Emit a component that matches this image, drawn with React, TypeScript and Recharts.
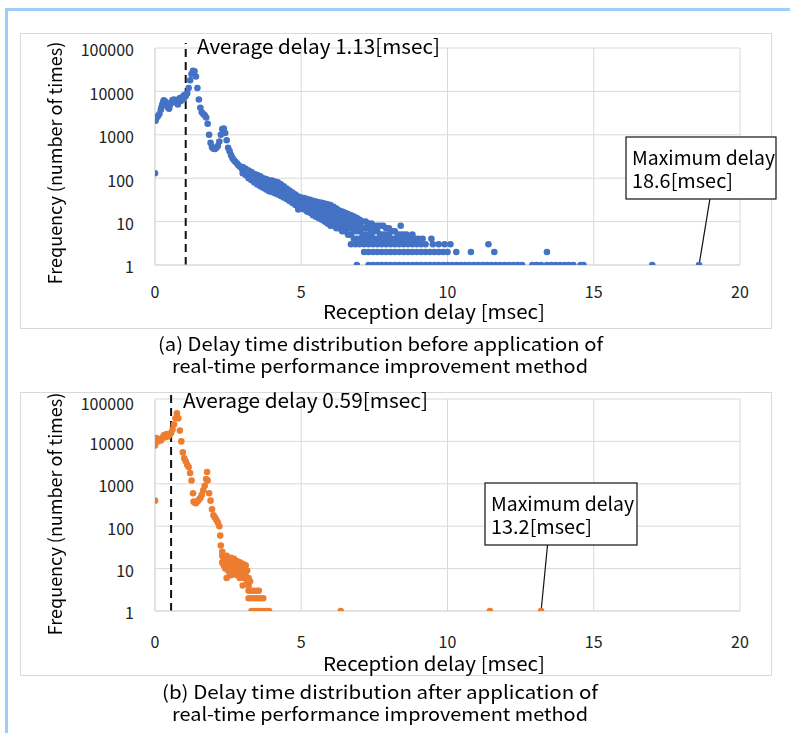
import React from "react"
import { ScatterChart, Scatter, XAxis, YAxis, CartesianGrid, ReferenceLine } from "recharts"

const FONT = "'Noto Sans CJK JP', 'Noto Sans', sans-serif"

const xTicks = [0, 5, 10, 15, 20]
const yTicks = [1, 10, 100, 1000, 10000, 100000]

// (a) before: main curve [delay msec, frequency]
const curveA: [number, number][] = [
  [0, 130],
  [0.0, 2300], [0.02, 2100], [0.05, 2500], [0.08, 2600], [0.1, 2700], [0.15, 3000], [0.2, 3800],
  [0.22, 4300], [0.25, 5000], [0.28, 5600], [0.3, 6200], [0.32, 5400], [0.35, 5800], [0.4, 4800],
  [0.45, 4200], [0.48, 4000], [0.5, 4600], [0.55, 5500], [0.6, 6300], [0.62, 5600], [0.65, 6500],
  [0.7, 5800], [0.75, 5600], [0.78, 5000], [0.8, 6500], [0.85, 7000], [0.88, 6000], [0.9, 6800],
  [0.95, 7500], [0.98, 6600], [1.0, 8200], [1.05, 7800], [1.1, 9000], [1.15, 12000], [1.2, 18000],
  [1.25, 25000], [1.3, 30000], [1.35, 29000], [1.4, 22000], [1.45, 12000], [1.5, 6500], [1.55, 4200],
  [1.6, 3300], [1.65, 3000], [1.7, 2800], [1.75, 2500], [1.8, 1800], [1.85, 1000], [1.9, 650],
  [1.95, 520], [2.0, 480], [2.05, 470], [2.1, 500], [2.15, 560], [2.2, 700], [2.25, 1000],
  [2.3, 1350], [2.35, 1400], [2.4, 1100], [2.45, 750], [2.5, 500], [2.55, 420], [2.6, 340],
  [2.65, 290], [2.7, 260], [2.75, 240], [2.8, 220], [2.85, 200], [2.9, 185], [2.95, 175],
]

// (a) wide tail: delay -> frequencies seen there
const tailA: [number, number[]][] = [
  [3.0, [180, 150, 130]], [3.1, [165, 140, 118]], [3.2, [150, 125, 100]], [3.3, [138, 112, 90]],
  [3.4, [125, 100, 80]], [3.5, [118, 92, 72]], [3.6, [110, 85, 65]], [3.7, [100, 78, 60]],
  [3.8, [95, 72, 55]], [3.9, [90, 68, 50]], [4.0, [88, 64, 48]], [4.1, [84, 60, 45]],
  [4.2, [80, 56, 42]], [4.3, [72, 52, 39]], [4.4, [65, 48, 36]], [4.5, [58, 50, 44, 38, 33]],
  [4.6, [52, 45, 40, 35, 30]], [4.7, [47, 41, 36, 31, 27]], [4.8, [42, 37, 33, 28, 24]],
  [4.9, [38, 34, 30, 26, 22, 19]], [5.0, [36, 32, 28, 24, 20]], [5.1, [35, 30, 26, 22, 19]],
  [5.2, [33, 28, 24, 20, 17]], [5.3, [32, 27, 23, 19, 16]], [5.4, [30, 25, 21, 17, 14]],
  [5.5, [29, 24, 20, 16, 13]], [5.6, [28, 23, 19, 15, 12]], [5.7, [27, 22, 18, 14, 11]],
  [5.8, [26, 21, 17, 13, 10]], [5.9, [25, 20, 16, 12, 9]], [6.0, [24, 19, 15, 11, 8]],
  [6.1, [22, 18, 14, 10, 8]], [6.2, [20, 16, 13, 10, 7]], [6.3, [18, 15, 12, 9, 7]],
  [6.4, [17, 14, 11, 8, 6]], [6.5, [16, 13, 10, 8, 6]], [6.6, [15, 12, 9, 7, 5]],
  [6.7, [14, 11, 9, 7, 5]], [6.8, [13, 10, 8, 6, 4]], [6.9, [12, 9, 7, 6, 4]],
  [7.0, [11, 8, 6, 4]], [7.1, [10, 7, 5, 4]], [7.2, [10, 7, 5, 4]], [7.3, [9, 7, 5, 4]],
  [7.4, [9, 6, 5, 4]], [7.5, [8, 6, 4]], [7.6, [8, 6, 4]], [7.7, [8, 5, 4]], [7.8, [8, 5, 4]],
  [7.9, [7, 5, 4]], [8.0, [7, 5, 4]], [8.1, [6, 4]], [8.2, [6, 4]], [8.3, [5, 4]], [8.4, [8, 5, 4]],
  [8.5, [5, 4]], [8.6, [5, 4]], [8.7, [4]], [8.8, [5, 4]], [8.9, [4]], [9.0, [4]], [9.15, [4]], [9.45, [4]],
]

// (a) delays seen 3, 2 and 1 times
const threeA = [6.7, 6.85, 7.0, 7.15, 7.3, 7.45, 7.6, 7.75, 7.9, 8.05, 8.2, 8.35, 8.5, 8.65, 8.8, 8.95,
  9.1, 9.25, 9.5, 9.7, 9.9, 10.1, 11.4]
const twoA = [7.15, 7.3, 7.45, 7.6, 7.75, 7.9, 8.05, 8.2, 8.35, 8.5, 8.65, 8.8, 8.95, 9.1, 9.25, 9.4,
  9.55, 9.7, 9.85, 10.0, 10.3, 10.8, 11.6, 13.4]
const oneA = [6.9, 7.3, 7.45, 7.6, 7.75, 7.9, 8.05, 8.2, 8.35, 8.5, 8.65, 8.8, 8.95, 9.1, 9.25, 9.4,
  9.55, 9.7, 9.85, 10.0, 10.15, 10.3, 10.45, 10.6, 10.75, 10.9, 11.05, 11.2, 11.35, 11.5, 11.65,
  11.8, 11.95, 12.1, 12.25, 12.4, 12.55, 12.9, 13.05, 13.2, 13.4, 13.55, 13.7, 13.85, 14.0, 14.15,
  14.3, 14.55, 14.65, 17.0, 18.6]

// (b) after
const curveB: [number, number][] = [
  [0, 400],
  [0.0, 8000], [0.05, 12000], [0.1, 10000], [0.15, 11000], [0.2, 10500], [0.25, 12000], [0.3, 14000],
  [0.35, 12500], [0.4, 15000], [0.45, 13000], [0.5, 14500], [0.55, 16000], [0.6, 19000], [0.65, 25000],
  [0.7, 35000], [0.75, 46000], [0.8, 35000], [0.85, 18000], [0.9, 10000], [0.95, 5500], [1.0, 4000],
  [1.05, 3400], [1.1, 2800], [1.15, 2500], [1.2, 1800], [1.25, 1200], [1.3, 600], [1.32, 380],
  [1.35, 360], [1.4, 350], [1.45, 380], [1.5, 420], [1.55, 460], [1.6, 550], [1.65, 700], [1.7, 900],
  [1.75, 1300], [1.78, 1900], [1.8, 1200], [1.85, 600], [1.9, 400], [1.95, 250], [2.0, 180],
  [2.05, 160], [2.1, 140], [2.15, 120], [2.2, 100], [2.23, 60], [2.25, 35], [2.3, 25],
]

const tailB: [number, number[]][] = [
  [2.3, [20, 14]], [2.35, [18, 12]], [2.4, [15, 10]], [2.45, [20, 13, 6]], [2.5, [16, 12, 9]],
  [2.55, [14, 8]], [2.6, [18, 11, 7]], [2.65, [15, 10]], [2.7, [17, 12, 9]], [2.75, [13, 8]],
  [2.8, [15, 10, 7]], [2.85, [12, 9]], [2.9, [14, 8, 6]], [2.95, [11, 7]], [3.0, [13, 9, 4]],
  [3.05, [10, 6]], [3.1, [12, 8]], [3.15, [9, 5]], [3.2, [6, 4]], [3.25, [5]],
]

const threeB = [3.2, 3.3, 3.4, 3.5, 3.55]
const twoB = [3.2, 3.3, 3.4, 3.5, 3.6, 3.7]
const oneB = [3.3, 3.4, 3.5, 3.6, 3.7, 3.8, 3.9, 6.35, 11.45, 13.2]

const toPoints = (curve: [number, number][], tail: [number, number[]][], three: number[], two: number[], one: number[]) => [
  ...curve.map(([x, y]) => ({ x, y })),
  ...tail.flatMap(([x, ys]) => ys.map((y) => ({ x, y }))),
  ...three.map((x) => ({ x, y: 3 })),
  ...two.map((x) => ({ x, y: 2 })),
  ...one.map((x) => ({ x, y: 1 })),
]

const pointsA = toPoints(curveA, tailA, threeA, twoA, oneA)
const pointsB = toPoints(curveB, tailB, threeB, twoB, oneB)

const YTick = (props: any) => {
  const { x, y, payload } = props
  return (
    <text x={x} y={y + 4} textAnchor="end" dominantBaseline="middle" fontSize={16} fontFamily={FONT} fill="#222">
      {payload.value}
    </text>
  )
}

interface DelayChartProps {
  points: { x: number; y: number }[]
  color: string
  avgX: number
  leader: { x: number; y: number }[]
  top: number
  height: number
  marginTop: number
  marginBottom: number
  tickMargin: number
}

function DelayChart({ points, color, avgX, leader, top, height, marginTop, marginBottom, tickMargin }: DelayChartProps) {
  return (
    <div style={{ position: "absolute", left: 20, top, width: 752, height, border: "1px solid #d9d9d9", boxSizing: "border-box", background: "#fff" }}>
      <ScatterChart width={750} height={height - 2} margin={{ top: marginTop, right: 31, left: 74, bottom: marginBottom }}>
        <CartesianGrid stroke="#d9d9d9" />
        <XAxis
          type="number"
          dataKey="x"
          domain={[0, 20]}
          ticks={xTicks}
          allowDataOverflow
          height={30}
          tickLine={false}
          tickMargin={tickMargin}
          axisLine={{ stroke: "#d9d9d9" }}
          tick={{ fontSize: 16, fontFamily: FONT, fill: "#222" }}
        />
        <YAxis
          type="number"
          dataKey="y"
          scale="log"
          domain={[1, 100000]}
          ticks={yTicks}
          allowDataOverflow
          width={60}
          tickLine={false}
          tickMargin={15}
          axisLine={{ stroke: "#d9d9d9" }}
          tick={<YTick />}
        />
        <Scatter
          data={points}
          isAnimationActive={false}
          shape={(p: any) => <circle cx={p.cx} cy={p.cy} r={3.3} fill={color} />}
        />
        <ReferenceLine
          segment={[{ x: avgX, y: 1 }, { x: avgX, y: 130000 }]}
          stroke="#111"
          strokeWidth={2}
          strokeDasharray="8 5"
          ifOverflow="visible"
        />
        <ReferenceLine segment={leader} stroke="#111" strokeWidth={1.2} ifOverflow="visible" />
      </ScatterChart>
    </div>
  )
}

const textStyle = { fontFamily: FONT, fill: "#000" }
const fit = { lengthAdjust: "spacingAndGlyphs" as const }
const FRAME = "#9fcdf5"

export default function App() {
  return (
    <div style={{ position: "relative", width: 790, height: 733, margin: -8, overflow: "hidden", background: "#fff" }}>
      <style>{`.recharts-surface { overflow: visible; }`}</style>
      <div style={{ position: "fixed", left: 5, top: 8, width: 785, height: 3, background: FRAME }} />
      <div style={{ position: "fixed", left: 5, top: 8, width: 3, height: 725, background: FRAME }} />
      <DelayChart
        points={pointsA}
        color="#4472c4"
        avgX={1.05}
        leader={[{ x: 18.6, y: 1 }, { x: 18.97, y: 33 }]}
        top={33}
        height={296}
        marginTop={14}
        marginBottom={33}
        tickMargin={16}
      />
      <DelayChart
        points={pointsB}
        color="#ed7d31"
        avgX={0.55}
        leader={[{ x: 13.2, y: 1 }, { x: 13.42, y: 36 }]}
        top={392}
        height={284}
        marginTop={6}
        marginBottom={34}
        tickMargin={20}
      />
      <svg width={790} height={733} style={{ position: "absolute", left: 0, top: 0, pointerEvents: "none" }}>
        <rect x={5} y={8} width={785} height={3} fill={FRAME} />
        <rect x={5} y={8} width={3} height={725} fill={FRAME} />

        {/* (a) */}
        <text x={57} y={163} transform="rotate(-90 57 163)" textAnchor="middle" dominantBaseline="middle" fontSize={18} {...textStyle}>
          Frequency (number of times)
        </text>
        <text x={323} y={319} fontSize={19} textLength={222} {...fit} {...textStyle}>Reception delay [msec]</text>
        <text x={197} y={54} fontSize={20} textLength={243} {...fit} {...textStyle}>Average delay 1.13[msec]</text>
        <rect x={626} y={137} width={150} height={62} fill="#fff" stroke="#111" strokeWidth={1.2} />
        <text x={632} y={165} fontSize={19} textLength={143} {...fit} {...textStyle}>Maximum delay</text>
        <text x={632} y={188} fontSize={19} textLength={101} {...fit} {...textStyle}>18.6[msec]</text>
        <text x={158} y={351} fontSize={18.5} textLength={445} {...fit} {...textStyle}>(a) Delay time distribution before application of</text>
        <text x={172} y={373} fontSize={18.5} textLength={416} {...fit} {...textStyle}>real-time performance improvement method</text>

        {/* (b) */}
        <text x={57} y={514} transform="rotate(-90 57 514)" textAnchor="middle" dominantBaseline="middle" fontSize={18} {...textStyle}>
          Frequency (number of times)
        </text>
        <text x={323} y={671} fontSize={19} textLength={222} {...fit} {...textStyle}>Reception delay [msec]</text>
        <text x={183} y={408} fontSize={20} textLength={245} {...fit} {...textStyle}>Average delay 0.59[msec]</text>
        <rect x={485} y={483} width={152} height={62} fill="#fff" stroke="#111" strokeWidth={1.2} />
        <text x={491} y={511} fontSize={19} textLength={143} {...fit} {...textStyle}>Maximum delay</text>
        <text x={491} y={534} fontSize={19} textLength={101} {...fit} {...textStyle}>13.2[msec]</text>
        <text x={162} y={699} fontSize={18.5} textLength={436} {...fit} {...textStyle}>(b) Delay time distribution after application of</text>
        <text x={172} y={721} fontSize={18.5} textLength={416} {...fit} {...textStyle}>real-time performance improvement method</text>
      </svg>
    </div>
  )
}
